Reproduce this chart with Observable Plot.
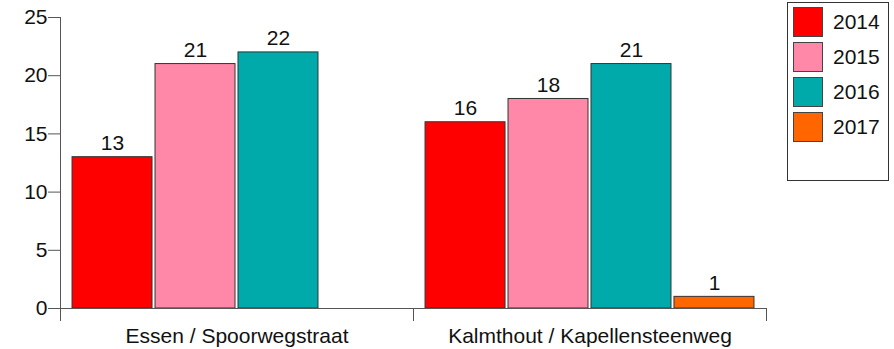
<!DOCTYPE html>
<html><head><meta charset="utf-8">
<script src="https://cdn.jsdelivr.net/npm/d3@7"></script>
<script src="https://cdn.jsdelivr.net/npm/@observablehq/plot@0.6"></script>
<style>
body{margin:0;background:#fff;font-family:"Liberation Sans",Arial,sans-serif;}
#wrap{position:relative;width:894px;height:349px;}
#legend{position:absolute;left:787px;top:2px;width:102px;height:179px;border:1px solid #333;box-sizing:border-box;}
.item{position:absolute;left:5px;height:30px;display:flex;align-items:center;font-size:21px;color:#111;}
.sw{width:30px;height:30px;border:1px solid #444;box-sizing:border-box;margin-right:10px;}
</style></head>
<body><div id="wrap"><div id="legend"></div></div>
<script>
const categories = ["Essen / Spoorwegstraat", "Kalmthout / Kapellensteenweg"];
const years = ["2014", "2015", "2016", "2017"];
const values2014 = [13, 16];
const values2015 = [21, 18];
const values2016 = [22, 21];
const values2017 = [null, 1];
const colors = ["#FF0000", "#FF88A8", "#00AAAA", "#FF6600"];
const yTicks = [0, 5, 10, 15, 20, 25];

const series = [values2014, values2015, values2016, values2017];
const rows = [];
categories.forEach((c, i) => years.forEach((yr, j) => {
  const v = series[j][i];
  if (v != null) rows.push({cat: c, year: yr, value: v});
}));

const chart = Plot.plot({
  width: 894, height: 349,
  marginLeft: 60, marginRight: 128, marginTop: 17, marginBottom: 41,
  style: {fontFamily: '"Liberation Sans", Arial, sans-serif', color: "#111"},
  fx: {domain: categories, padding: 0, round: false},
  x: {domain: years, paddingInner: 0.036, paddingOuter: 0.145, round: false, axis: null},
  y: {domain: [0, 25]},
  color: {domain: years, range: colors},
  marks: [
    Plot.barY(rows, {fx: "cat", x: "year", y: "value", fill: "year", stroke: "#333", strokeWidth: 1}),
    Plot.ruleY([0], {stroke: "#555"}),
    Plot.text(rows, {fx: "cat", x: "year", y: "value", text: d => String(d.value), lineAnchor: "bottom", dy: -7, fontSize: 21, fill: "#111"}),
    Plot.axisY({ticks: yTicks, tickSize: 12, tickPadding: 1, fontSize: 21, stroke: "#555", label: null}),
    Plot.axisFx({anchor: "bottom", tickSize: 0, tickPadding: 20, fontSize: 21, label: null})
  ]
});
document.getElementById("wrap").appendChild(chart);

// axis lines drawn via the library's scales
const svg = d3.select(chart.tagName === "svg" ? chart : chart.querySelector("svg"));
const ys = chart.scale("y"), fxs = chart.scale("fx");
const x0 = fxs.apply(categories[0]);
const yTop = ys.apply(25), yBase = ys.apply(0);
const g = svg.append("g").attr("stroke", "#555").attr("stroke-width", 1);
g.append("line").attr("x1", x0 + 0.5).attr("x2", x0 + 0.5).attr("y1", yTop).attr("y2", yBase + 13);
categories.forEach((c) => {
  const xr = fxs.apply(c) + fxs.bandwidth;
  g.append("line").attr("x1", xr + 0.5).attr("x2", xr + 0.5).attr("y1", yBase).attr("y2", yBase + 13);
});

const leg = document.getElementById("legend");
years.forEach((yr, i) => {
  const d = document.createElement("div");
  d.className = "item";
  d.style.top = (4 + i * 35) + "px";
  d.innerHTML = `<div class="sw" style="background:${colors[i]}"></div><span>${yr}</span>`;
  leg.appendChild(d);
});
</script></body></html>
